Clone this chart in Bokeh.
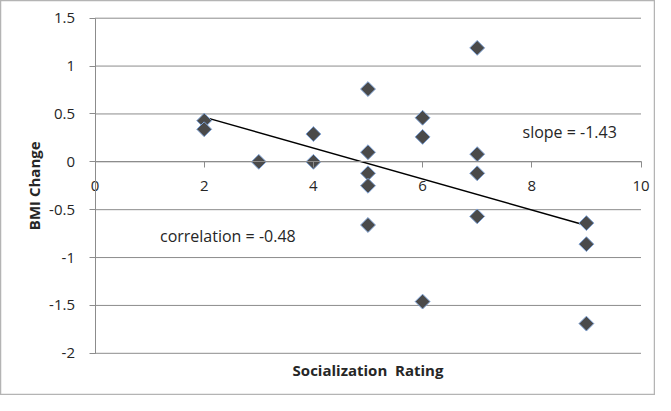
import numpy as np
from bokeh.plotting import figure
from bokeh.models import FixedTicker, Label
from bokeh.embed import file_html
from bokeh.resources import INLINE

# data
socialization = [2, 2, 3, 4, 4, 5, 5, 5, 5, 5, 6, 6, 6, 7, 7, 7, 7, 9, 9, 9]
bmi_change = [0.43, 0.34, 0.0, 0.29, 0.0, 0.76, 0.10, -0.12, -0.25, -0.66,
              0.46, 0.26, -1.46, 1.19, 0.08, -0.12, -0.57, -0.64, -0.86, -1.69]
x_ticks = [0, 2, 4, 6, 8, 10]
x_tick_labels = ["0", "2", "4", "6", "8", "10"]
y_ticks = [-2, -1.5, -1, -0.5, 0, 0.5, 1, 1.5]
y_tick_labels = ["-2", "-1.5", "-1", "-0.5", "0", "0.5", "1", "1.5"]
x_title = "Socialization\u00a0\u00a0Rating"
y_title = "BMI Change"
slope_text = "slope = -1.43"
corr_text = "correlation = -0.48"

FONT = "Open Sans"
GRID = "#8c8c8c"
TXT = "#262626"

W, H = 655, 395
# plot area in canvas pixels
PL, PR, PT, PB = 94.5, 640.5, 17.7, 352.8
xmin, xmax = x_ticks[0], x_ticks[-1]
ymin, ymax = y_ticks[0], y_ticks[-1]
sx = (PR - PL) / (xmax - xmin)
sy = (PB - PT) / (ymax - ymin)
x_range = (xmin - PL / sx, xmax + (W - PR) / sx)
y_range = (ymin - (H - PB) / sy, ymax + PT / sy)

p = figure(width=W, height=H, x_range=x_range, y_range=y_range,
           output_backend="svg", toolbar_location=None,
           min_border=0, min_border_left=0, min_border_right=0,
           min_border_top=0, min_border_bottom=0)
p.outline_line_color = "#b4b4b4"
p.outline_line_width = 1.5
p.background_fill_color = "white"
p.border_fill_color = "white"
p.xgrid.grid_line_color = None
p.ygrid.grid_line_color = None

# horizontal gridlines spanning the x extent
p.segment(x0=[xmin] * len(y_ticks), x1=[xmax] * len(y_ticks), y0=y_ticks, y1=y_ticks,
          line_color=GRID, line_width=1)

# x axis at y=0
xa = p.xaxis[0]
xa.ticker = FixedTicker(ticks=x_ticks)
xa.fixed_location = 0
xa.bounds = (xmin, xmax)
xa.axis_line_color = GRID
xa.major_tick_line_color = GRID
xa.major_tick_out = 6
xa.major_tick_in = 0
xa.minor_tick_line_color = None
xa.major_label_overrides = {t: l for t, l in zip(x_ticks, x_tick_labels)}
xa.major_label_standoff = 13
xa.major_label_text_font = FONT
xa.major_label_text_font_size = "15px"
xa.major_label_text_color = TXT

# y axis at x=0
ya = p.yaxis[0]
ya.ticker = FixedTicker(ticks=y_ticks)
ya.fixed_location = 0
ya.bounds = (ymin, ymax)
ya.major_label_overrides = {t: l for t, l in zip(y_ticks, y_tick_labels)}
ya.axis_line_color = GRID
ya.major_tick_line_color = GRID
ya.major_tick_out = 6
ya.major_tick_in = 0
ya.minor_tick_line_color = None
ya.major_label_standoff = 14
ya.major_label_text_font = FONT
ya.major_label_text_font_size = "15px"
ya.major_label_text_color = TXT

# axis titles
p.add_layout(Label(x=(xmin + xmax) / 2, y=ymin, y_offset=-17, text=x_title,
                   text_align="center", text_baseline="middle", text_font=FONT,
                   text_font_size="15px", text_font_style="bold", text_color=TXT))
p.add_layout(Label(x=xmin, y=(ymin + ymax) / 2, x_offset=-61, text=y_title, angle=np.pi / 2,
                   text_align="center", text_baseline="middle", text_font=FONT,
                   text_font_size="15px", text_font_style="bold", text_color=TXT))

# trend line (least squares)
m, b = np.polyfit(socialization, bmi_change, 1)
xs = [min(socialization), max(socialization)]
p.line(xs, [m * v + b for v in xs], line_color="black", line_width=1.5)

p.scatter(socialization, bmi_change, marker="square", angle=np.pi / 4, size=10.5,
          fill_color="#4a4a4a", line_color="#7fa3d6", line_width=1)

p.add_layout(Label(x=7.83, y=0.31, text=slope_text, text_font=FONT, text_font_size="16px",
                   text_color=TXT, text_baseline="middle"))
p.add_layout(Label(x=1.19, y=-0.78, text=corr_text, text_font=FONT, text_font_size="16px",
                   text_color=TXT, text_baseline="middle"))

open("out.html", "w").write(file_html(p, INLINE))
